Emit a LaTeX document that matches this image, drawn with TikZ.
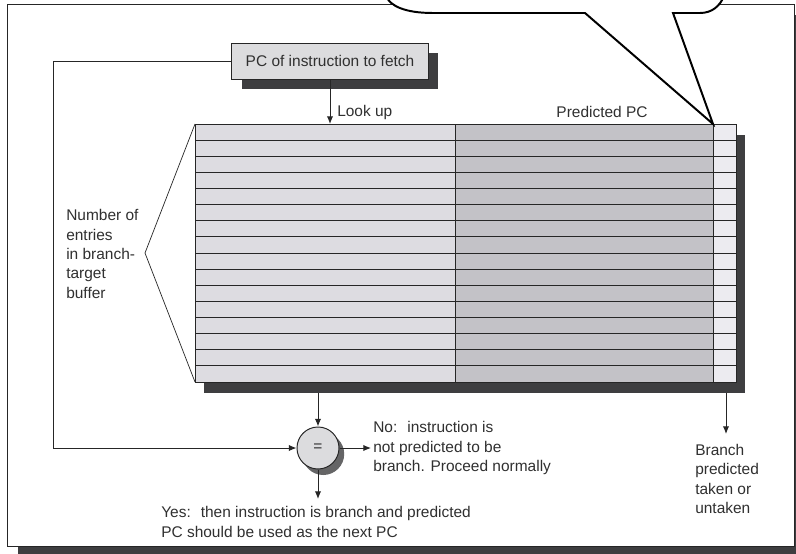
\documentclass[tikz,border=0pt]{standalone}
\usepackage{fontspec}
\setmainfont{Liberation Sans}
\usetikzlibrary{arrows.meta,shadows}
\definecolor{inkgray}{HTML}{262626}
\definecolor{txtgray}{HTML}{303030}
\definecolor{shadowgray}{HTML}{3E3E40}
\definecolor{boxgray}{HTML}{DCDCDE}
\definecolor{lookgray}{HTML}{DDDCE1}
\definecolor{predgray}{HTML}{C3C2C7}
\definecolor{bitgray}{HTML}{ECEBF0}
\begin{document}
\begin{tikzpicture}[x=0.025cm, y=-0.025cm,
  every node/.style={font=\fontsize{11}{13.8}\selectfont, text=txtgray},
  wire/.style={draw=inkgray, line width=0.7pt},
  arr/.style={wire, -{Latex[length=5.5pt,width=4.5pt]}},
  pcbox/.style={draw=inkgray, line width=0.7pt, fill=boxgray, minimum width=4.9cm,
    minimum height=0.9cm, inner sep=0pt,
    drop shadow={shadow xshift=0.25cm, shadow yshift=-0.25cm, opacity=1, fill=shadowgray}},
  cmpnode/.style={circle, draw=inkgray, line width=0.7pt, fill=boxgray, minimum size=1.05cm,
    inner sep=0pt,
    drop shadow={shadow xshift=0.13cm, shadow yshift=-0.15cm, opacity=1, fill=shadowgray!80}},
  note/.style={align=left, inner sep=0pt, anchor=west}]
  \useasboundingbox (0,0) rectangle (796,553);
  \fill[white] (0,0) rectangle (796,553);
  \fill[shadowgray] (18,15) rectangle (806,558);
  \draw[wire, fill=white] (7,4) rectangle (794,546);

  \coordinate (btbnw) at (195,124);
  \coordinate (btbse) at (736,382);
  \fill[shadowgray] (204,135) rectangle (745,393);
  \fill[lookgray] (195,124) rectangle (455,382);
  \fill[predgray] (455,124) rectangle (713,382);
  \fill[bitgray] (713,124) rectangle (736,382);
  \foreach \r in {1,...,15}
    \draw[wire] (195,{124+16.125*\r}) -- (736,{124+16.125*\r});
  \draw[wire] (btbnw) rectangle (btbse);
  \draw[wire] (455,124) -- (455,382) (713,124) -- (713,382);
  \draw[wire, line width=0.5pt] (btbnw) -- (145,253) -- (btbnw |- btbse);

  \node[pcbox] (pcfetch) at (330,61) {PC of instruction to fetch};
  \node[cmpnode] (cmp) at (318,448) {=};

  \coordinate (lookup) at (pcfetch.south |- btbnw);
  \coordinate (loopcorner) at (53,61);
  \coordinate (btbout) at (318,393);
  \coordinate (noout) at (371,448);
  \coordinate (yesout) at (318,499);
  \coordinate (bitout) at (726,393);
  \coordinate (bitend) at (726,434);

  \draw[arr] (pcfetch.south) -- (lookup);
  \draw[arr] (pcfetch.west) -- (loopcorner) |- (cmp.west);
  \draw[arr] (btbout) -- (cmp.north);
  \draw[arr] (cmp.east) -- (noout);
  \draw[arr] (cmp.south) -- (yesout);
  \draw[arr] (bitout) -- (bitend);

  \node[note] (looklbl) at (337,112) {Look up};
  \node (predlbl) at (602,112) {Predicted PC};
  \node[note] (entries) at (66,254) {Number of\\entries\\in branch-\\target\\buffer};
  \node[note] (nolbl) at (373,448) {No:~ instruction is\\not predicted to be\\branch. Proceed normally};
  \node[note] (yeslbl) at (161,522) {Yes:~ then instruction is branch and predicted\\PC should be used as the next PC};
  \node[note] (bitlbl) at (695,479) {Branch\\predicted\\taken or\\untaken};

  \begin{scope}
    \clip (0,0) rectangle (796,553);
    \draw[black, line width=1.4pt, fill=white, line join=miter]
      (585,13) -- (433,13) .. controls (405,13) and (390,6) .. (386,-4)
      -- (386,-40) -- (726,-40) -- (724,-4)
      .. controls (720,6) and (712,13) .. (700,13)
      -- (673,13) -- (713,124) -- cycle;
  \end{scope}
\end{tikzpicture}
\end{document}
